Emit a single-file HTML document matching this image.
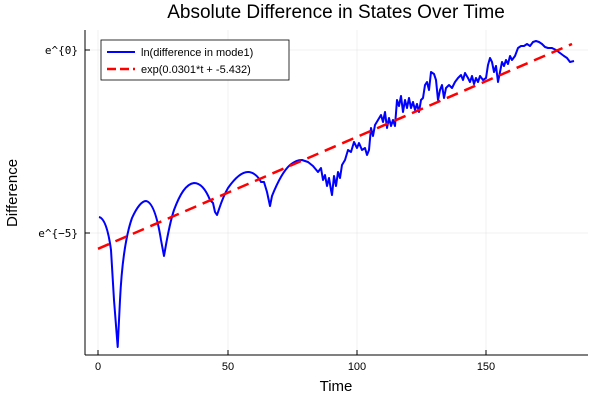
<!DOCTYPE html>
<html><head><meta charset="utf-8"><style>
body{margin:0;background:#fff}
svg text{font-family:"Liberation Sans","DejaVu Sans",sans-serif}
</style></head><body>
<svg width="600" height="400" xmlns="http://www.w3.org/2000/svg">
<rect width="600" height="400" fill="#fff"/>
<g stroke="#000" stroke-opacity="0.1" stroke-width="0.5">
<line x1="98" y1="30" x2="98" y2="355"/><line x1="228" y1="30" x2="228" y2="355"/>
<line x1="357" y1="30" x2="357" y2="355"/><line x1="486" y1="30" x2="486" y2="355"/>
<line x1="85" y1="50" x2="588" y2="50"/><line x1="85" y1="233" x2="588" y2="233"/>
</g>
<g stroke="#000" stroke-width="1">
<line x1="85" y1="355" x2="588" y2="355"/><line x1="85" y1="30" x2="85" y2="355"/>
<line x1="98" y1="355" x2="98" y2="350"/><line x1="228" y1="355" x2="228" y2="350"/>
<line x1="357" y1="355" x2="357" y2="350"/><line x1="486" y1="355" x2="486" y2="350"/>
<line x1="85" y1="50" x2="90" y2="50"/><line x1="85" y1="233" x2="90" y2="233"/>
</g>
<g font-size="11" fill="#000" text-anchor="middle">
<text x="98" y="370">0</text><text x="228" y="370">50</text><text x="357" y="370">100</text><text x="486" y="370">150</text>
</g>
<g font-size="11" fill="#000" text-anchor="end" font-family="DejaVu Sans Mono, monospace">
<text x="78" y="54" style="font-family:'DejaVu Sans Mono',monospace">e^{0}</text><text x="78" y="237" style="font-family:'DejaVu Sans Mono',monospace">e^{−5}</text>
</g>
<text x="336" y="391" font-size="15" text-anchor="middle">Time</text>
<text x="17" y="193" font-size="15" text-anchor="middle" transform="rotate(-90 17 193)">Difference</text>
<text x="336" y="18" font-size="19" text-anchor="middle">Absolute Difference in States Over Time</text>
<path fill="none" stroke="#0000ff" stroke-width="2" stroke-linejoin="round" d="M99,217 C104,218 108,228 111,250 L114,300 L117.7,347 L120,300 C122,260 126,235 132,218 C137,207 142,201 146,201 C152,202 157,215 161,240 L164,256 C166,245 169,225 174,210 C180,194 186,184 194,183 C201,183 206,190 210,200 L213,203 L215,212 L217,215 C219,210 222,198 228,188 C235,178 242,172 248,172 C253,172 258,176 261,182 L264,182 L267,192 L270,206 L272,196 C276,186 282,172 290,165 C295,161 298,160 302,160 L308,162 L313,166 L318,172 L321,168 L323,180 L325,175 L327,186 L329,178 L331,190 L332,195 L334,176 L336,186 L338,172 L340,178 L342,165 L345,160 L348,150 L351,152 L354,142 L357,148 L359,143 L362,150 L365,148 L367,155 L369,150 L371,128 L373,136 L375,125 L378,120 L381,115 L383,122 L385,112 L387,128 L389,118 L391,126 L393,120 L395,126 L397,100 L399,106 L401,96 L403,112 L405,100 L407,108 L409,98 L411,108 L413,102 L415,110 L417,104 L419,112 L421,100 L423,98 L425,85 L427,82 L429,90 L431,72 L434,74 L436,80 L438,100 L440,90 L442,85 L444,98 L446,88 L449,85 L452,88 L455,82 L458,78 L461,75 L463,80 L465,73 L468,78 L470,82 L472,76 L474,84 L476,78 L478,82 L480,76 L483,80 L486,78 L488,65 L490,58 L492,62 L494,72 L496,66 L498,82 L500,72 L502,62 L504,66 L506,60 L508,64 L510,56 L512,60 L515,56 L518,48 L521,46 L524,46 L527,44 L530,46 L533,42 L536,41 L539,42 L542,44 L545,47 L548,48 L552,48 L556,50 L560,53 L564,56 L567,58 L570,62 L574,61"/>
<line x1="98" y1="248.8" x2="572" y2="44" stroke="#ff0000" stroke-width="2.5" stroke-dasharray="12,7"/>
<rect x="101" y="40" width="188" height="40" fill="#fff" stroke="#000" stroke-width="0.8"/>
<line x1="107" y1="52" x2="135" y2="52" stroke="#0000ff" stroke-width="2"/>
<line x1="107" y1="69" x2="135" y2="69" stroke="#ff0000" stroke-width="2.5" stroke-dasharray="9,4"/>
<text x="141" y="56" font-size="11">ln(difference in mode1)</text>
<text x="141" y="73" font-size="11">exp(0.0301*t + -5.432)</text>
</svg>
</body></html>
